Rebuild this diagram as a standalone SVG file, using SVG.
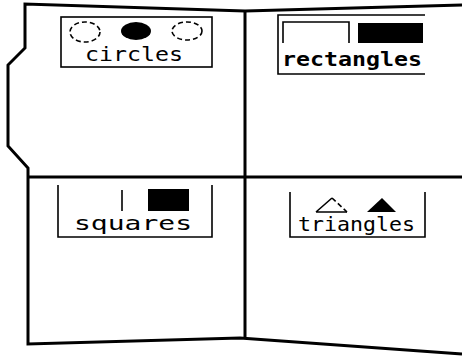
<svg xmlns="http://www.w3.org/2000/svg" width="462" height="358" viewBox="0 0 462 358">
<style>
.frame{fill:none;stroke:#000;stroke-width:3;stroke-linejoin:miter}
.box{fill:none;stroke:#000;stroke-width:1.6}
.dash{fill:none;stroke:#000;stroke-width:1.6;stroke-dasharray:5 3}
.solid{fill:#000;stroke:none}
.lbl{font-family:"DejaVu Sans Mono",monospace;font-size:20px;fill:#000}
</style>
<rect width="462" height="358" fill="#fff"/>
<g id="connectors">
<path class="frame" d="M462,5 L245,11 L25,4 L25,48 L8,65 L8,146 L28,168 L28,344 L240,338 L462,354"/>
<path class="frame" d="M245,11 L245,338"/>
<path class="frame" d="M28,177 L462,177"/>
</g>
<g id="circles">
<rect class="box" x="61" y="17" width="151" height="50"/>
<ellipse class="dash" cx="85" cy="32" rx="15" ry="10"/>
<ellipse class="solid" cx="136" cy="31" rx="15" ry="9"/>
<ellipse class="dash" cx="187" cy="31" rx="15" ry="9"/>
<text class="lbl" x="85" y="61" textLength="98" lengthAdjust="spacingAndGlyphs">circles</text>
</g>
<g id="rectangles">
<path class="box" d="M425,15 L278,15 L278,74 L425,74"/>
<path class="box" d="M283,43 L283,22 L349,22 L349,43"/>
<rect class="solid" x="358" y="23" width="65" height="20"/>
<text class="lbl" x="282" y="66" textLength="140" lengthAdjust="spacingAndGlyphs" font-weight="bold" font-size="21">rectangles</text>
</g>
<g id="squares">
<path class="box" d="M58,185 L58,237 L212,237 L212,185"/>
<path class="box" d="M122,190 L122,211"/>
<rect class="solid" x="148" y="189" width="41" height="22"/>
<text class="lbl" x="74" y="230" textLength="118" lengthAdjust="spacingAndGlyphs">squares</text>
</g>
<g id="triangles">
<path class="box" d="M290,192 L290,237 L425,237 L425,192"/>
<path class="box" d="M316,212 L347,212 M316,212 L332,198"/>
<path class="dash" d="M332,198 L347,212" stroke-dasharray="3 3"/>
<path class="solid" d="M367,212 L382,198 L396,212 Z"/>
<text class="lbl" x="298" y="231" textLength="117" lengthAdjust="spacingAndGlyphs">triangles</text>
</g>
</svg>
